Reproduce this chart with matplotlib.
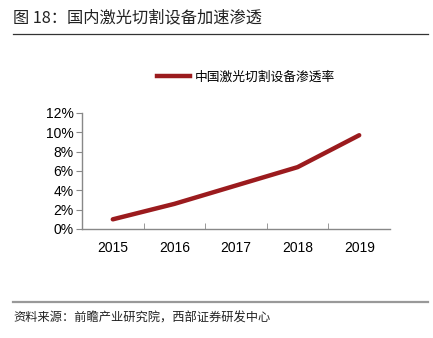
import matplotlib
matplotlib.use("Agg")
import matplotlib.pyplot as plt
from matplotlib.lines import Line2D

plt.rcParams['font.family'] = ['Noto Sans CJK SC', 'DejaVu Sans']

years = ["2015", "2016", "2017", "2018", "2019"]
rate = [1.0, 2.6, 4.5, 6.4, 9.7]
yticks = [0, 2, 4, 6, 8, 10, 12]
title = "图 18：国内激光切割设备加速渗透"
legend_label = "中国激光切割设备渗透率"
source = "资料来源：前瞻产业研究院，西部证券研发中心"

W, H = 433, 338
fig = plt.figure(figsize=(W/100, H/100), dpi=100)
ax = fig.add_axes([82/W, 1-229/H, (390-82)/W, (229-113)/H])

x = list(range(len(years)))
ax.plot(x, rate, color='#9B1B1E', lw=3.2, solid_capstyle='round')
ax.set_xlim(-0.5, len(years)-0.5)
ax.set_ylim(0, 12)
ax.set_yticks(yticks)
ax.set_yticklabels([f"{v}%" for v in yticks], fontsize=10, family='Liberation Sans')
ax.set_xticks(x)
ax.set_xticklabels(years, fontsize=10, family='Liberation Sans')
ax.tick_params(axis='x', length=0, pad=9)
ax.set_xticks([i+0.5 for i in x[:-1]], minor=True)
ax.tick_params(axis='x', which='minor', direction='in', length=4, color='#888888')
ax.tick_params(axis='y', direction='out', length=4, color='#888888', pad=2)
for s in ['top', 'right']:
    ax.spines[s].set_visible(False)
for s in ['left', 'bottom']:
    ax.spines[s].set_color('#888888')
    ax.spines[s].set_linewidth(1.0)

handle = Line2D([], [], color='#9B1B1E', lw=3.2)
fig.legend([handle], [legend_label], loc='center', bbox_to_anchor=(246/W, 1-77/H),
           frameon=False, fontsize=9.2, handlelength=2.6, handletextpad=0.4)

fig.text(13/W, 1-18/H, title, fontsize=11.7, va='center', ha='left', color='#222222')
fig.add_artist(Line2D([13/W, 428/W], [1-34/H, 1-34/H], color='#333333', lw=0.9))
fig.add_artist(Line2D([13/W, 428/W], [1-302/H, 1-302/H], color='#999999', lw=1.6))
fig.text(13/W, 1-318/H, source, fontsize=8.8, va='center', ha='left', color='#222222')

fig.savefig("out.png", dpi=100)
